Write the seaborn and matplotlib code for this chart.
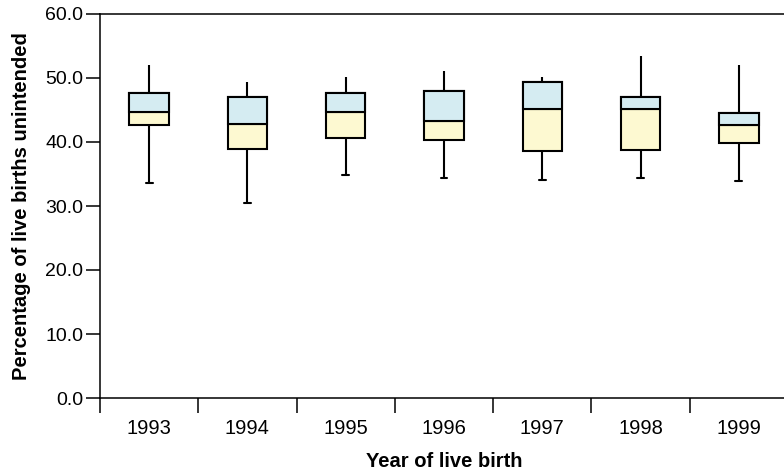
import numpy as np
import pandas as pd
import matplotlib
matplotlib.use("Agg")
import matplotlib.pyplot as plt
import seaborn as sns

# Five-number summaries per year (percentage of live births unintended)
years = ["1993", "1994", "1995", "1996", "1997", "1998", "1999"]
whisker_low = [33.6, 30.5, 34.8, 34.4, 34.1, 34.4, 33.9]
q1 = [42.7, 38.9, 40.6, 40.3, 38.6, 38.7, 39.8]
median = [44.7, 42.8, 44.7, 43.3, 45.2, 45.2, 42.7]
q3 = [47.7, 47.0, 47.7, 48.0, 49.4, 47.1, 44.6]
whisker_high = [52.1, 49.4, 50.1, 51.1, 50.1, 53.5, 52.1]

yticks = [0, 10, 20, 30, 40, 50, 60]

YELLOW = "#fdf9d1"
BLUE = "#d5ecf2"

# Long-form table: the five summary values per year give exactly these quartiles
rows = []
for i, yr in enumerate(years):
    for v in (whisker_low[i], q1[i], median[i], q3[i], whisker_high[i]):
        rows.append({"year": yr, "value": v})
df = pd.DataFrame(rows)

sns.set_theme(style="white")
plt.rcParams["font.family"] = ["Liberation Sans", "DejaVu Sans"]

fig = plt.figure(figsize=(7.84, 4.73), dpi=100)
ax = fig.add_axes([100 / 784, 75 / 473, 688 / 784, 384 / 473])

sns.boxplot(
    data=df, x="year", y="value", order=years, ax=ax,
    color=YELLOW, saturation=1, fill=True, linecolor="black",
    linewidth=1.5, width=0.4, whis=(0, 100), showfliers=False,
    capwidths=0.07,
)

# Upper half of each box (median to Q3) in light blue
pos = np.arange(len(years))
ax.bar(pos, np.array(q3) - np.array(median), bottom=median, width=0.4,
       color=BLUE, edgecolor="black", linewidth=1.5, zorder=2.5)

# Only the lower whiskers carry a cap
cont = ax.containers[0]
for k, cap in enumerate(cont.caps):
    if k % 2 == 1:
        cap.set_visible(False)

ax.set_ylim(0, 60)
ax.set_xlim(-0.5, len(years) - 0.5)
ax.set_yticks(yticks)
ax.set_yticklabels([f"{t:.1f}" for t in yticks])

ax.set_xticks(pos)
ax.set_xticklabels(years)
ax.set_xticks(np.arange(-0.5, len(years) - 0.4, 1.0), minor=True)
ax.tick_params(axis="x", which="major", length=0, pad=15, labelsize=14.5, colors="black")
ax.tick_params(axis="x", which="minor", length=11, width=1.1, direction="out", bottom=True, color="black")
ax.tick_params(axis="y", which="major", length=10, width=1.1, direction="out", left=True, pad=2,
               labelsize=14, colors="black")

for side in ("left", "bottom", "top", "right"):
    ax.spines[side].set_color("black")
    ax.spines[side].set_linewidth(1.1)

ax.set_xlabel("Year of live birth", fontsize=14.5, fontweight="bold", labelpad=10, color="black")
ax.set_ylabel("Percentage of live births unintended", fontsize=14.5, fontweight="bold",
              labelpad=10, color="black")

fig.savefig("out.png", dpi=100)
